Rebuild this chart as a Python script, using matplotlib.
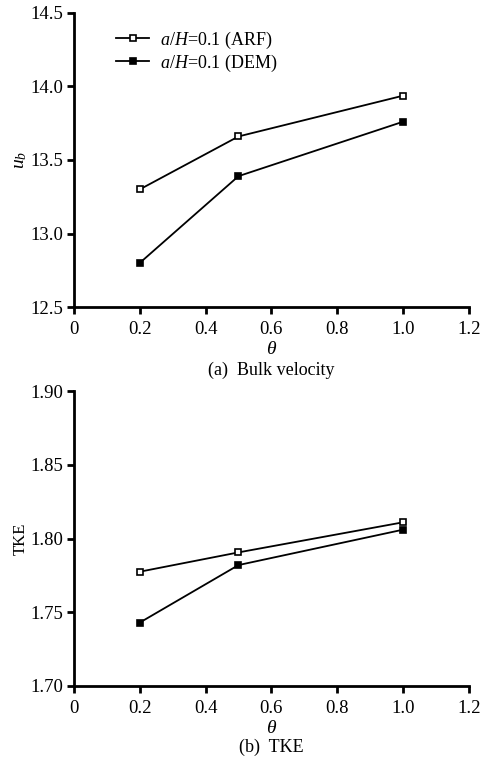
import matplotlib
matplotlib.use("Agg")
import matplotlib.pyplot as plt
from matplotlib.ticker import FixedLocator, FixedFormatter

plt.rcParams['font.family'] = ['Liberation Serif', 'DejaVu Serif']
plt.rcParams['mathtext.fontset'] = 'custom'
plt.rcParams['mathtext.rm'] = 'Liberation Serif'
plt.rcParams['mathtext.it'] = 'Liberation Serif:italic'

theta = [0.2, 0.5, 1.0]
ub_arf = [13.30, 13.66, 13.937]
ub_dem = [12.80, 13.39, 13.76]
tke_arf = [1.7775, 1.7906, 1.811]
tke_dem = [1.743, 1.782, 1.806]

x_ticks = [0, 0.2, 0.4, 0.6, 0.8, 1.0, 1.2]
x_labels = ['0', '0.2', '0.4', '0.6', '0.8', '1.0', '1.2']
ub_ticks = [12.5, 13.0, 13.5, 14.0, 14.5]
tke_ticks = [1.70, 1.75, 1.80, 1.85, 1.90]

fig = plt.figure(figsize=(4.88, 7.6), dpi=100)
ax1 = fig.add_axes([0.1516, 0.596, 0.809, 0.387])
ax2 = fig.add_axes([0.1516, 0.0974, 0.809, 0.388])


def style(ax):
    for s in ['top', 'right']:
        ax.spines[s].set_visible(False)
    for s in ['left', 'bottom']:
        ax.spines[s].set_linewidth(2.0)
    ax.tick_params(direction='out', length=5, width=2.0, labelsize=13.5, pad=3)
    ax.tick_params(axis='x', pad=5)
    ax.set_xlim(0, 1.2)
    ax.xaxis.set_major_locator(FixedLocator(x_ticks))
    ax.xaxis.set_major_formatter(FixedFormatter(x_labels))


def draw(ax, arf, dem):
    ax.plot(theta, arf, color='black', lw=1.3, marker='s', ms=4.8,
            mfc='white', mec='black', mew=1.2, label='$a/H$=0.1 (ARF)')
    ax.plot(theta, dem, color='black', lw=1.3, marker='s', ms=4.8,
            mfc='black', mec='black', mew=1.2, label='$a/H$=0.1 (DEM)')


draw(ax1, ub_arf, ub_dem)
style(ax1)
ax1.set_ylim(12.5, 14.5)
ax1.set_yticks(ub_ticks)
ax1.set_yticklabels([f'{v:.1f}' for v in ub_ticks])
ax1.set_ylabel('$u_b$', fontsize=14, labelpad=1)
ax1.set_xlabel(r'$\theta$', fontsize=14, labelpad=2)
ax1.legend(loc='upper left', bbox_to_anchor=(0.08, 0.98), frameon=False,
           fontsize=13, handlelength=1.8, handletextpad=0.6,
           labelspacing=0.1, borderaxespad=0.2)

draw(ax2, tke_arf, tke_dem)
style(ax2)
ax2.set_ylim(1.70, 1.90)
ax2.set_yticks(tke_ticks)
ax2.set_yticklabels([f'{v:.2f}' for v in tke_ticks])
ax2.set_ylabel('TKE', fontsize=12, labelpad=1)
ax2.set_xlabel(r'$\theta$', fontsize=14, labelpad=2)

fig.text(0.555, 0.513, '(a)  Bulk velocity', ha='center', va='center', fontsize=13)
fig.text(0.555, 0.016, '(b)  TKE', ha='center', va='center', fontsize=13)

fig.savefig('out.png', dpi=100, facecolor='white')
